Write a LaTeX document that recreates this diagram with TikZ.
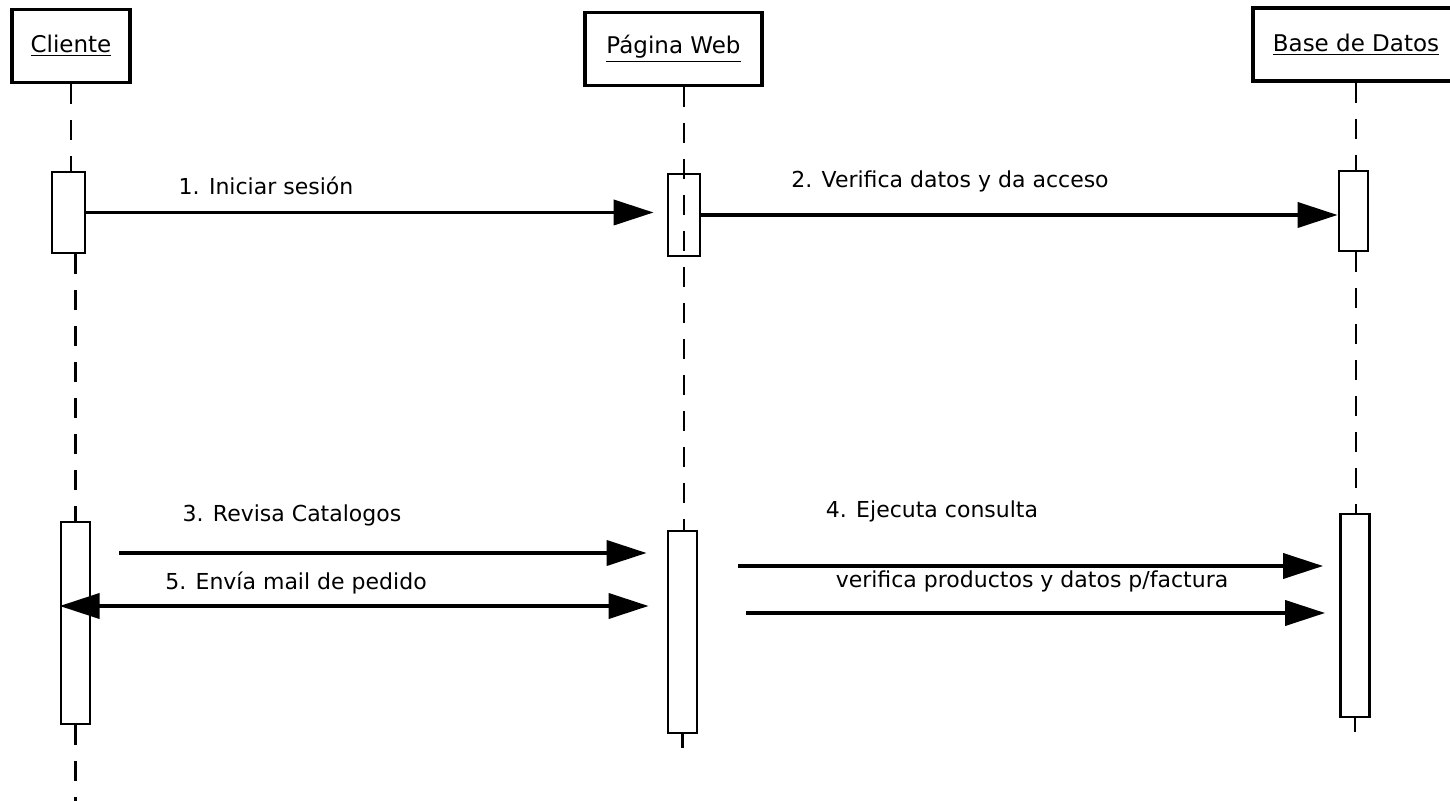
\documentclass[tikz,border=0pt]{standalone}
\usepackage{fontspec}
\setmainfont{DejaVu Sans}
\usepackage{tikz}
\usetikzlibrary{arrows.meta}

\tikzset{
    actor/.style={draw, line width=1.7pt, minimum width=#1, minimum height=36.5pt, inner sep=0pt,
        font=\fontsize{11.5}{14}\selectfont},
    activo/.style={draw, line width=1.4pt, fill=white, minimum width=14.5pt, inner sep=0pt},
    vida/.style={line width=1.1pt, dash pattern=on 10pt off 8pt},
    msg/.style={line width=1.9pt, -{Triangle[length=20pt,width=12.5pt]}},
    msgdoble/.style={line width=1.9pt, {Triangle[length=20pt,width=12.5pt]}-{Triangle[length=20pt,width=12.5pt]}},
    etiq/.style={anchor=base, inner sep=0pt, font=\fontsize{11}{13}\selectfont}
}

\begin{document}
\begin{tikzpicture}[x=0.5pt, y=-0.5pt]
        \clip (0,0) rectangle (1450,801);

        % Actores
        \node[actor=59pt] (cliente) at (71,46) {\underline{Cliente}};
        \node[actor=88.5pt] (pagina) at (673.5,49) {\underline{Página Web}};
        \node[actor=103pt] (base) at (1356,44.5) {\underline{Base de Datos}};

        % Activaciones
        \node[activo, minimum width=16.5pt, minimum height=40.5pt] (actCliA) at (68.5,212.5) {};
        \node[activo, fill=none, minimum width=16pt, minimum height=41pt] (actWebA) at (684,215) {};
        \node[activo, minimum height=40pt] (actBDA) at (1353.5,211) {};
        \node[activo, minimum height=101pt] (actCliB) at (75.5,623) {};
        \node[activo, minimum height=101pt] (actWebB) at (682.5,632) {};
        \node[activo, minimum height=101.5pt] (actBDB) at (1355,615.5) {};

        % Lineas de vida
        \coordinate (fondo) at (0,801);
        \draw[vida] (cliente.south) -- (cliente.south |- actCliA.north);
        \draw[vida] (actCliA.south -| actCliB.north) -- (actCliB.north);
        \draw[vida] (actCliB.south) -- (actCliB.south |- fondo);
        \draw[vida] (actWebA |- pagina.south) -- (actWebA |- actWebB.north);
        \draw[line width=1.1pt] (actWebB.south) -- ++(0,14);
        \draw[vida] (base.south) -- (base.south |- actBDA.north);
        \draw[vida] (base.south |- actBDA.south) -- (base.south |- actBDB.north);
        \draw[line width=1.1pt] (actBDB.south) -- ++(0,14);

        % Mensajes
        \coordinate (m3) at (0,553);
        \coordinate (m4) at (0,566);
        \coordinate (m5) at (0,606);
        \coordinate (m6) at (0,613);
        \draw[msg, shorten >=6.5pt] (actCliA.east) -- (actCliA.east -| actWebA.west);
        \draw[msg] (actWebA.east) -- (actWebA.east -| actBDA.west);
        \draw[msg, shorten <=14pt, shorten >=10pt] (actCliB.east |- m3) -- (actWebB.west |- m3);
        \draw[msgdoble, shorten >=9pt] (actCliB.west |- m5) -- (actWebB.west |- m5);
        \draw[msg, shorten <=20pt, shorten >=8pt] (actWebB.east |- m4) -- (actBDB.west |- m4);
        \draw[msg, shorten <=24pt, shorten >=7pt] (actWebB.east |- m6) -- (actBDB.west |- m6);

        % Etiquetas
        \node[etiq] (lblUno) at (266,195) {1. Iniciar sesión};
        \node[etiq] (lblDos) at (950,188) {2. Verifica datos y da acceso};
        \node[etiq] (lblTres) at (292,522) {3. Revisa Catalogos};
        \node[etiq] (lblCuatro) at (932,517) {4. Ejecuta consulta};
        \node[etiq] (lblCinco) at (296,589) {5. Envía mail de pedido};
        \node[etiq] (lblVerif) at (1032,588) {verifica productos y datos p/factura};
    \end{tikzpicture}
\end{document}
